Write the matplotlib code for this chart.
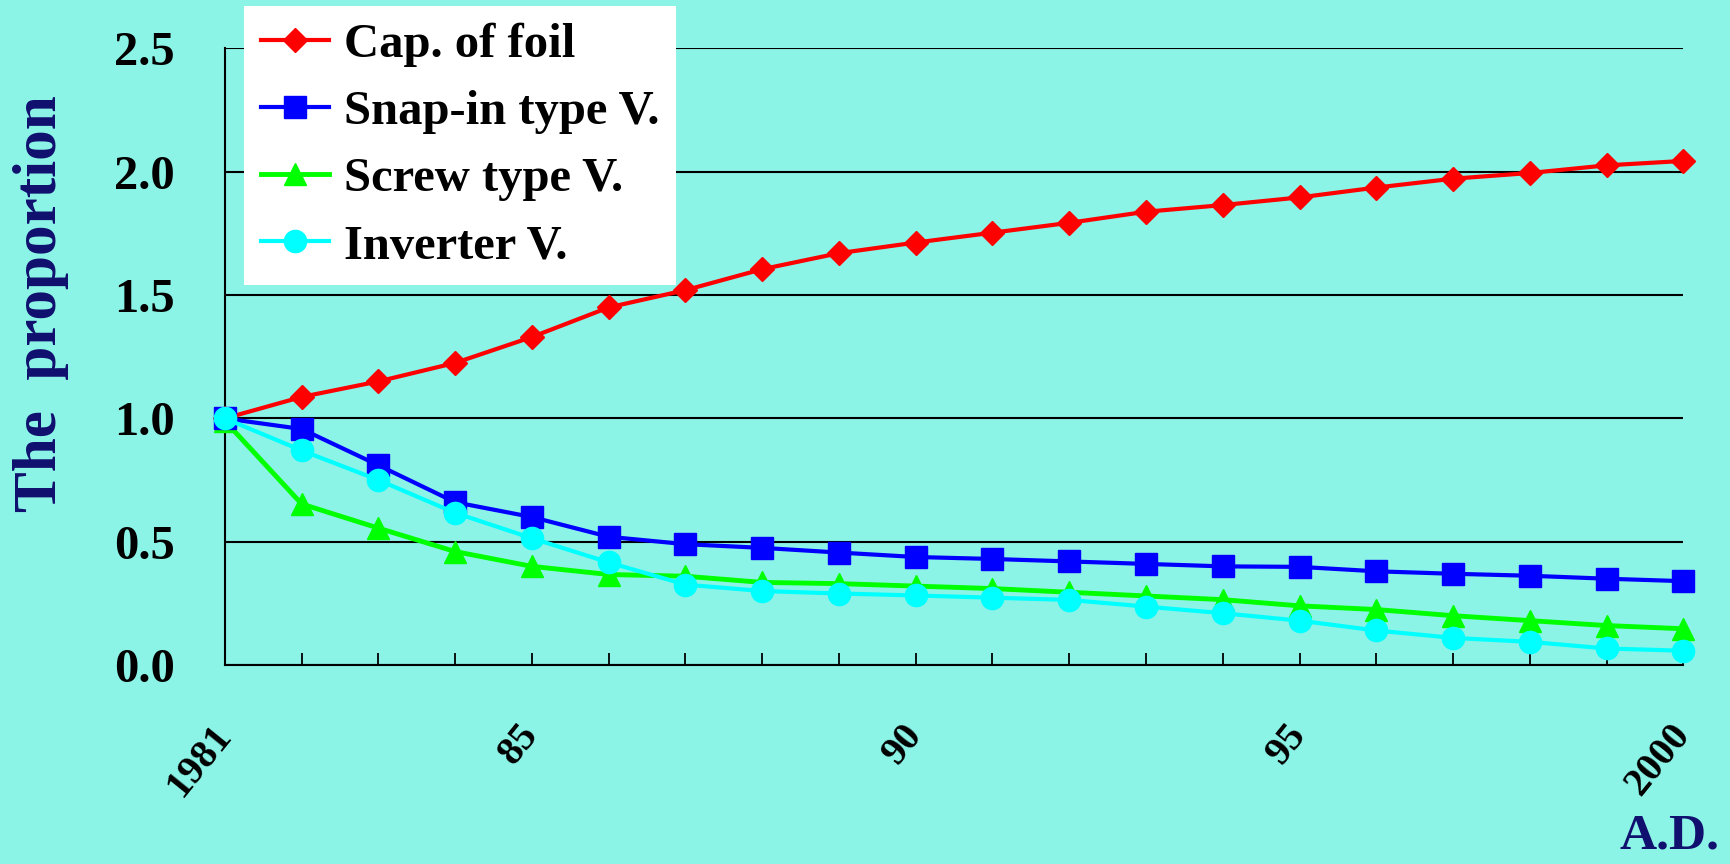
import matplotlib
matplotlib.use('Agg')
import matplotlib.pyplot as plt

plt.rcParams['font.family'] = ['Liberation Serif', 'DejaVu Serif']
plt.rcParams['font.weight'] = 'bold'

years = list(range(1981, 2001))
tick_labels = ['1981', '', '', '', '85', '', '', '', '', '90',
               '', '', '', '', '95', '', '', '', '', '2000']

# proportion relative to 1981
cap_foil = [1.0, 1.087, 1.15, 1.225, 1.33, 1.45, 1.52, 1.605, 1.67, 1.713,
            1.753, 1.793, 1.838, 1.865, 1.896, 1.936, 1.972, 1.995, 2.026, 2.044]
snap_in = [1.0, 0.957, 0.81, 0.66, 0.60, 0.52, 0.49, 0.475, 0.456, 0.438,
           0.43, 0.42, 0.41, 0.40, 0.398, 0.38, 0.37, 0.362, 0.35, 0.34]
screw = [0.99, 0.653, 0.555, 0.46, 0.40, 0.367, 0.36, 0.335, 0.33, 0.32,
         0.31, 0.295, 0.28, 0.265, 0.24, 0.225, 0.2, 0.18, 0.16, 0.147]
inverter = [1.0, 0.87, 0.75, 0.617, 0.514, 0.416, 0.326, 0.30, 0.29, 0.282,
            0.273, 0.264, 0.237, 0.21, 0.18, 0.14, 0.11, 0.094, 0.067, 0.058]

bg = '#8cf3e7'
navy = '#10106e'

fig = plt.figure(figsize=(17.30, 8.64), dpi=100, facecolor=bg)
ax = fig.add_axes([0.130, 0.2303, 0.843, 0.7136])
ax.set_facecolor(bg)

ax.plot(years, cap_foil, color='red', lw=3, marker='D', ms=12,
        label='Cap. of foil', clip_on=False, zorder=3)
ax.plot(years, snap_in, color='blue', lw=3, marker='s', ms=16,
        label='Snap-in type V.', clip_on=False, zorder=5)
ax.plot(years, screw, color='#00ff00', lw=3.5, marker='^', ms=16,
        label='Screw type V.', clip_on=False, zorder=4)
ax.plot(years, inverter, color='cyan', lw=3, marker='o', ms=16,
        label='Inverter V.', clip_on=False, zorder=6)

ax.set_xlim(1981, 2000)
ax.set_ylim(0, 2.5)
ax.set_yticks([0, 0.5, 1.0, 1.5, 2.0, 2.5])
ax.set_yticklabels(['0.0', '0.5', '1.0', '1.5', '2.0', '2.5'], fontsize=35)
ax.tick_params(axis='y', length=0, pad=36)
ax.set_xticks(years)
ax.set_xticklabels(tick_labels, fontsize=29, rotation=51,
                   ha='right', va='center', rotation_mode='anchor')
ax.tick_params(axis='x', direction='in', length=9, width=1.3, pad=46)
ax.yaxis.grid(True, color='black', lw=1.5)
ax.set_axisbelow(True)
for s in ['top', 'right']:
    ax.spines[s].set_visible(False)
ax.spines['left'].set_linewidth(1.5)
ax.spines['bottom'].set_linewidth(1.5)

fig.text(0.0237, 0.649, 'The  proportion', rotation=90, ha='center',
         va='center', fontsize=44, color=navy)
fig.text(0.994, 0.005, 'A.D.', ha='right', va='bottom', fontsize=37,
         color=navy)

leg = fig.legend(loc='upper left', bbox_to_anchor=(0.141, 0.993),
                 fontsize=35, frameon=True, fancybox=False, framealpha=1,
                 facecolor='white', edgecolor='none', handlelength=1.4,
                 labelspacing=0.47, borderpad=0.35, handletextpad=0.3,
                 borderaxespad=0)

fig.savefig('out.png', dpi=100, facecolor=bg)
